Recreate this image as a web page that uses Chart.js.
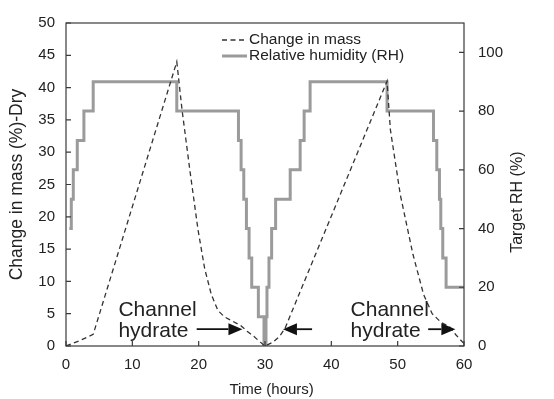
<!DOCTYPE html>
<html>
<head>
<meta charset="utf-8">
<script src="https://cdn.jsdelivr.net/npm/chart.js@4.4.1/dist/chart.umd.min.js"></script>
<style>
  html, body { margin: 0; padding: 0; background: #fff; }
  #wrap { width: 554px; height: 399px; }
</style>
</head>
<body>
<div id="wrap"><canvas id="c" width="554" height="399"></canvas></div>
<script>
// axis ticks
const timeTicks = [0, 10, 20, 30, 40, 50, 60];
const massTicks = [0, 5, 10, 15, 20, 25, 30, 35, 40, 45, 50];
const rhTicks = [0, 20, 40, 60, 80, 100];

// change in mass (%)
const massTime = [0, 2.0, 4.1, 16.7, 17.5, 18.7, 19.9, 20.9, 21.9, 22.9, 23.9, 25.2, 26.3, 27.3, 28.3, 29.3, 30.0,
                  31.2, 32.2, 33.0, 48.4, 48.9, 50.4, 52.3, 53.9, 55.2, 56.6, 57.8, 58.8, 59.7, 60];
const massValue = [0, 0.8, 1.8, 44, 36.5, 27, 18, 12, 8, 5.5, 4.5, 3.8, 3.2, 2.3, 1.5, 0.6, 0,
                   0.6, 1.5, 2.7, 41, 33.5, 23.4, 14.2, 8.0, 5.0, 3.6, 3.0, 1.7, 0.7, 0.4];

// target RH (%) steps: each level holds from its time to the next one
const rhTime = [0.5, 0.8, 1.1, 1.7, 2.7, 4.1, 16.7, 26.0, 26.4, 26.8, 27.2, 27.6, 28.0, 29.0, 29.85,
                30.15, 30.3, 30.6, 31.0, 31.6, 33.8, 35.3, 35.9, 36.8, 48.4, 55.4, 55.9, 56.3, 56.5, 56.8, 57.3, 60];
const rhLevel = [40, 50, 60, 70, 80, 90, 80, 70, 60, 50, 40, 30, 20, 10, 0,
                 10, 20, 30, 40, 50, 60, 70, 80, 90, 80, 70, 60, 50, 40, 30, 20, 20];

// "Channel hydrate" notes (hours, mass %) and arrows (from -> to, hours)
const noteX = [7.9, 42.9];
const noteLines = ['Channel', 'hydrate'];
const noteBaseline = [4.6, 1.4];
const arrowFrom = [19.7, 37.1, 54.6];
const arrowTo = [26.6, 32.7, 58.7];
const arrowLevel = 2.6;

const FONT = "'Liberation Sans', Arial, sans-serif";
const INK = '#222';
const AXIS = '#3a3a3a';
const RH_GREY = '#9b9b9b';

Chart.defaults.font.family = FONT;
Chart.defaults.color = INK;

function fixTicks(values) {
    return function (scale) { scale.ticks = values.map(v => ({ value: v })); };
}

// frame, inward tick marks, legend, titles, notes
const decorations = {
    id: 'decorations',
    afterDatasetsDraw(chart) {
        const ctx = chart.ctx;
        const { left, right, top, bottom } = chart.chartArea;
        const sx = chart.scales.x, sy = chart.scales.y, sr = chart.scales.y2;
        ctx.save();

        // frame
        ctx.strokeStyle = AXIS;
        ctx.lineWidth = 1.2;
        ctx.strokeRect(left, top, right - left, bottom - top);

        // inward ticks
        const tl = 5;
        ctx.beginPath();
        sx.ticks.forEach(t => {
            const px = sx.getPixelForValue(t.value);
            ctx.moveTo(px, bottom); ctx.lineTo(px, bottom - tl);
        });
        sy.ticks.forEach(t => {
            const py = sy.getPixelForValue(t.value);
            ctx.moveTo(left, py); ctx.lineTo(left + tl, py);
        });
        sr.ticks.forEach(t => {
            const py = sr.getPixelForValue(t.value);
            ctx.moveTo(right, py); ctx.lineTo(right - tl, py);
        });
        ctx.stroke();

        // legend
        const lx = left + 156, lw = 25;
        const rows = [top + 17, top + 33];
        ctx.lineWidth = 1.3;
        ctx.strokeStyle = '#333';
        ctx.setLineDash([5, 3.5]);
        ctx.beginPath();
        ctx.moveTo(lx, rows[0]); ctx.lineTo(lx + lw, rows[0]);
        ctx.stroke();
        ctx.setLineDash([]);
        ctx.lineWidth = 3;
        ctx.strokeStyle = RH_GREY;
        ctx.beginPath();
        ctx.moveTo(lx, rows[1]); ctx.lineTo(lx + lw, rows[1]);
        ctx.stroke();
        ctx.fillStyle = INK;
        ctx.font = '15.5px ' + FONT;
        ctx.textBaseline = 'middle';
        ctx.textAlign = 'left';
        ctx.fillText(chart.data.datasets[1].label, lx + lw + 2, rows[0]);
        ctx.fillText(chart.data.datasets[0].label, lx + lw + 2, rows[1]);

        // right axis title, reading upward, centred on the 0-100 span
        ctx.save();
        const ty = (sr.getPixelForValue(0) + sr.getPixelForValue(100)) / 2 + 3;
        ctx.translate(518, ty);
        ctx.rotate(-Math.PI / 2);
        ctx.font = '16px ' + FONT;
        ctx.textAlign = 'center';
        ctx.textBaseline = 'middle';
        ctx.fillText('Target RH (%)', 0, 0);
        ctx.restore();

        // x axis title, sitting a little right of centre as in the source
        ctx.font = '15px ' + FONT;
        ctx.textAlign = 'center';
        ctx.textBaseline = 'middle';
        ctx.fillText('Time (hours)', sx.getPixelForValue(31), 390);

        // notes
        ctx.font = '21px ' + FONT;
        ctx.textBaseline = 'alphabetic';
        ctx.textAlign = 'left';
        noteX.forEach(nx => {
            noteLines.forEach((s, i) => {
                ctx.fillText(s, sx.getPixelForValue(nx), sy.getPixelForValue(noteBaseline[i]));
            });
        });

        // arrows
        ctx.strokeStyle = '#111';
        ctx.fillStyle = '#111';
        ctx.lineWidth = 1.8;
        const ay = sy.getPixelForValue(arrowLevel);
        arrowFrom.forEach((f, i) => {
            const x0 = sx.getPixelForValue(f), x1 = sx.getPixelForValue(arrowTo[i]);
            const dir = Math.sign(x1 - x0);
            const head = 14;
            ctx.beginPath();
            ctx.moveTo(x0, ay); ctx.lineTo(x1 - dir * head, ay);
            ctx.stroke();
            ctx.beginPath();
            ctx.moveTo(x1, ay);
            ctx.lineTo(x1 - dir * head, ay - 6);
            ctx.lineTo(x1 - dir * head, ay + 6);
            ctx.closePath();
            ctx.fill();
        });

        ctx.restore();
    }
};

new Chart(document.getElementById('c'), {
    type: 'line',
    data: {
        datasets: [
            {
                label: 'Relative humidity (RH)',
                data: rhTime.map((t, i) => ({ x: t, y: rhLevel[i] })),
                yAxisID: 'y2',
                stepped: true,
                borderColor: RH_GREY,
                borderWidth: 3,
                pointRadius: 0,
                fill: false,
                order: 2
            },
            {
                label: 'Change in mass',
                data: massTime.map((t, i) => ({ x: t, y: massValue[i] })),
                yAxisID: 'y',
                borderColor: '#333',
                borderWidth: 1.3,
                borderDash: [5, 3.5],
                pointRadius: 0,
                tension: 0,
                fill: false,
                order: 1
            }
        ]
    },
    options: {
        responsive: false,
        animation: false,
        devicePixelRatio: 1,
        layout: { padding: { top: 19, left: 0, right: 0, bottom: 0 } },
        plugins: { legend: { display: false }, tooltip: { enabled: false } },
        scales: {
            x: {
                type: 'linear', position: 'bottom', min: 0, max: 60,
                afterBuildTicks: fixTicks(timeTicks),
                afterFit(s) { s.height = 53; },
                grid: { display: false, drawTicks: false },
                border: { display: false },
                ticks: { padding: 10, autoSkip: false, maxRotation: 0, font: { size: 15 }, color: INK },
                title: { display: false }
            },
            y: {
                type: 'linear', position: 'left', min: 0, max: 50,
                afterBuildTicks: fixTicks(massTicks),
                afterFit(s) { s.width = 66; },
                grid: { display: false, drawTicks: false },
                border: { display: false },
                ticks: { padding: 11, autoSkip: false, font: { size: 15 }, color: INK },
                title: { display: true, text: 'Change in mass (%)-Dry', font: { size: 17.5 }, color: INK, padding: { top: 7, bottom: 0 } }
            },
            y2: {
                type: 'linear', position: 'right', min: 0, max: 110,
                afterBuildTicks: fixTicks(rhTicks),
                afterFit(s) { s.width = 90; },
                grid: { display: false, drawTicks: false },
                border: { display: false },
                ticks: { padding: 14, autoSkip: false, font: { size: 15 }, color: INK }
            }
        }
    },
    plugins: [decorations]
});
</script>
</body>
</html>
